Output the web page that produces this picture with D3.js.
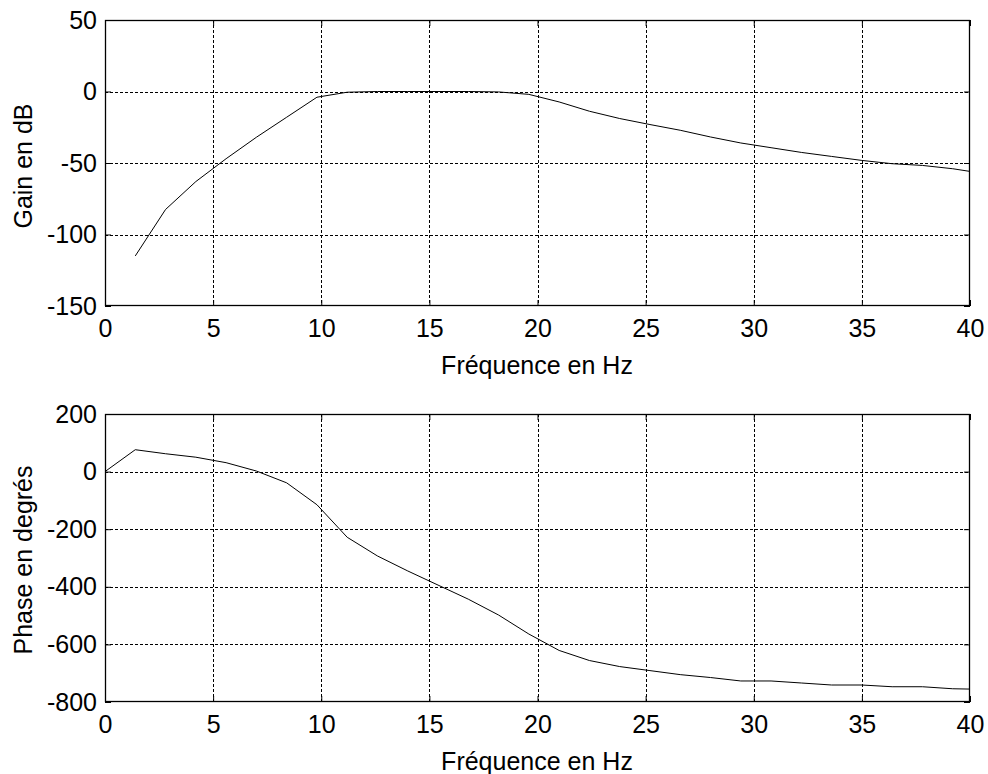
<!DOCTYPE html>
<html><head><meta charset="utf-8">
<script src="https://cdn.jsdelivr.net/npm/d3@7"></script>
<style>
body{margin:0;background:#fff;}
text{font-family:Arial,"Liberation Sans",sans-serif;fill:#000;}
</style></head>
<body><svg id="c" width="988" height="774"></svg>
<script>
// Frequency points (Hz), step 1.4 Hz
const freq = [0,1.4,2.8,4.2,5.6,7.0,8.4,9.8,11.2,12.6,14.0,15.4,16.8,18.2,19.6,21.0,22.4,23.8,25.2,26.6,28.0,29.4,30.8,32.2,33.6,35.0,36.4,37.8,39.2,40.6];
// Gain in dB (first point undefined: -Inf)
const gainDb = [null,-115,-82.5,-63,-47,-32,-18,-4,-0.5,0,0,0,0,-0.3,-2,-7.3,-13.8,-18.9,-23.1,-27.1,-31.8,-36,-39.3,-42.6,-45.4,-48.2,-50.5,-51.7,-54,-57.3];
// Phase in degrees
const phaseDeg = [0,76,62,50,31,2,-39,-115,-228,-293,-345,-394,-443,-498,-564,-621,-656,-677,-691,-705,-715,-727,-727,-734,-741,-741,-747,-747,-754,-756];
const xTicks = [0,5,10,15,20,25,30,35,40];
const gainTicks = [50,0,-50,-100,-150];
const phaseTicks = [200,0,-200,-400,-600,-800];

const svg = d3.select("#c");
const L = 105, R = 970;
const FS = 25;
const fmt = d => String(d);

function panel(top, bottom, yDomain, yTicksArr, values, yLabel, id, labelShift){
  const x = d3.scaleLinear().domain([0,40]).range([L,R]);
  const y = d3.scaleLinear().domain(yDomain).range([bottom, top]);
  const g = svg.append("g");
  g.append("defs").append("clipPath").attr("id",id)
    .append("rect").attr("x",L).attr("y",top).attr("width",R-L).attr("height",bottom-top);
  // grid
  g.append("g").selectAll("line").data(xTicks.filter(d=>d>0&&d<40)).join("line")
    .attr("x1",d=>Math.round(x(d))+0.5).attr("x2",d=>Math.round(x(d))+0.5)
    .attr("y1",top).attr("y2",bottom)
    .attr("stroke","#000").attr("stroke-width",1).attr("stroke-dasharray","3,2");
  g.append("g").selectAll("line").data(yTicksArr.filter(d=>d>yDomain[0]&&d<yDomain[1])).join("line")
    .attr("y1",d=>Math.round(y(d))+0.5).attr("y2",d=>Math.round(y(d))+0.5)
    .attr("x1",L).attr("x2",R)
    .attr("stroke","#000").attr("stroke-width",1).attr("stroke-dasharray","3,2");
  // axes via d3 axis (inward ticks)
  const tk = 6;
  const ax = g.append("g").attr("transform",`translate(0,${bottom})`)
    .call(d3.axisBottom(x).tickValues(xTicks).tickSizeInner(-tk).tickSizeOuter(0).tickPadding(13).tickFormat(fmt));
  const axT = g.append("g").attr("transform",`translate(0,${top})`)
    .call(d3.axisTop(x).tickValues(xTicks).tickSizeInner(-tk).tickSizeOuter(0).tickFormat(""));
  const ay = g.append("g").attr("transform",`translate(${L},0)`)
    .call(d3.axisLeft(y).tickValues(yTicksArr).tickSizeInner(-tk).tickSizeOuter(0).tickPadding(8).tickFormat(fmt));
  const ayR = g.append("g").attr("transform",`translate(${R},0)`)
    .call(d3.axisRight(y).tickValues(yTicksArr).tickSizeInner(-tk).tickSizeOuter(0).tickFormat(""));
  [ax,axT,ay,ayR].forEach(a=>{
    a.select(".domain").remove();
    a.selectAll("line").attr("stroke","#000");
    a.selectAll("text").attr("font-size",FS).attr("font-family",'Arial,"Liberation Sans",sans-serif').attr("fill","#000");
  });
  ax.selectAll("text").attr("dy","0.71em");
  // box
  g.append("rect").attr("x",L+0.5).attr("y",top+0.5).attr("width",R-L-1).attr("height",bottom-top-1)
    .attr("fill","none").attr("stroke","#000").attr("stroke-width",1.3);
  // curve
  const pts = freq.map((f,i)=>[f,values[i]]);
  const line = d3.line().defined(d=>d[1]!==null).x(d=>x(d[0])).y(d=>y(d[1]));
  g.append("path").datum(pts).attr("d",line).attr("fill","none")
    .attr("stroke","#000").attr("stroke-width",1).attr("clip-path",`url(#${id})`);
  // labels
  g.append("text").attr("x",537).attr("y",bottom+68).attr("text-anchor","middle")
    .attr("font-size",FS).text("Fréquence en Hz");
  g.append("text").attr("transform",`translate(32,${(top+bottom)/2+labelShift}) rotate(-90)`)
    .attr("text-anchor","middle").attr("font-size",FS).text(yLabel);
}

panel(20, 306, [-150,50], gainTicks, gainDb, "Gain en dB", "clipA", 3);
panel(414, 702, [-800,200], phaseTicks, phaseDeg, "Phase en degrés", "clipB", 2);
</script></body></html>
